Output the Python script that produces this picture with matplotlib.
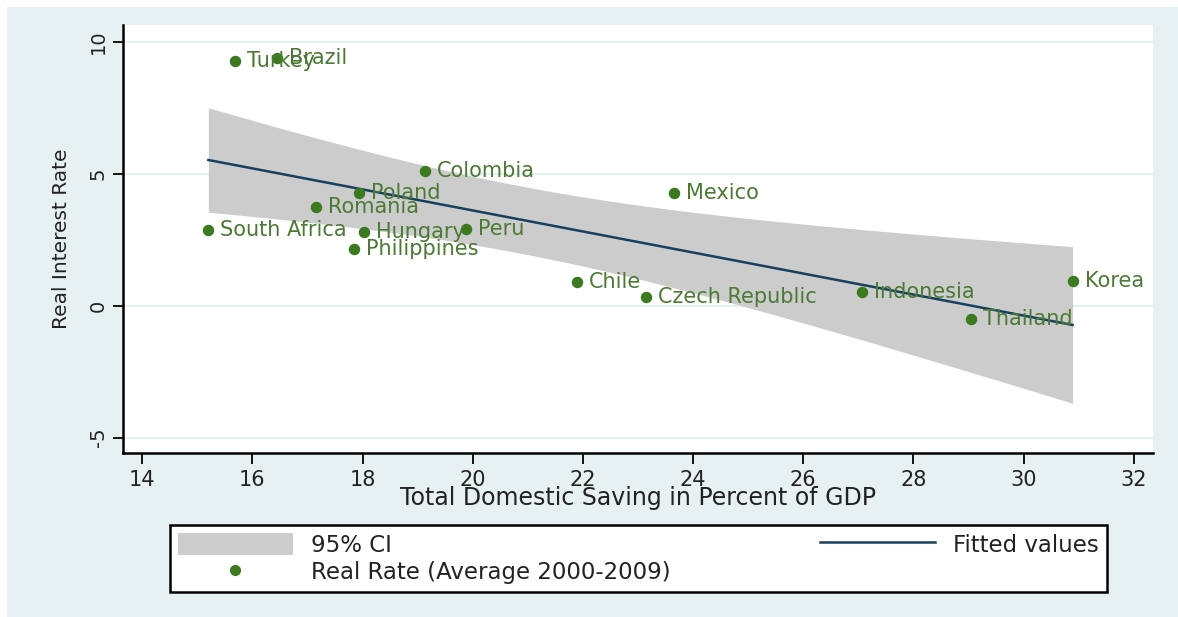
import numpy as np
import matplotlib
matplotlib.use("Agg")
import matplotlib.pyplot as plt
from matplotlib.patches import Rectangle, Patch
from matplotlib.lines import Line2D

# ---- data ----
countries = ["Turkey", "Brazil", "Colombia", "Poland", "Romania", "South Africa",
             "Hungary", "Peru", "Philippines", "Mexico", "Chile", "Czech Republic",
             "Indonesia", "Thailand", "Korea"]
saving = [15.69, 16.44, 19.13, 17.93, 17.15, 15.20, 18.02, 19.87, 17.84, 23.65,
          21.89, 23.14, 27.06, 29.04, 30.89]
real_rate = [9.27, 9.38, 5.10, 4.27, 3.74, 2.87, 2.79, 2.91, 2.15, 4.27,
             0.90, 0.33, 0.52, -0.50, 0.94]
x_ticks = [14, 16, 18, 20, 22, 24, 26, 28, 30, 32]
y_ticks = [-5, 0, 5, 10]
T_CRIT = 2.160  # t(0.975, df=13)

plt.rcParams['font.family'] = ['DejaVu Sans']

BG = "#e8f1f2"
GREEN = "#3b7a1f"
LABEL_GREEN = "#4a7a33"
NAVY = "#17405f"
GRAY = "#cccccc"
TXT = "#222222"

fig = plt.figure(figsize=(11.78, 6.17), dpi=100, facecolor="white")
W, H = 1178, 617
fig.patches.append(Rectangle((7 / W, 0), 1 - 7 / W, 1 - 7 / H,
                             transform=fig.transFigure, facecolor=BG,
                             edgecolor="none", zorder=-10))

ax = fig.add_axes([123 / W, 1 - 453 / H, (1153 - 123) / W, (453 - 25) / H])
ax.set_facecolor("white")

x = np.array(saving)
y = np.array(real_rate)
n = len(x)
b, a = np.polyfit(x, y, 1)
resid = y - (a + b * x)
s = np.sqrt(np.sum(resid ** 2) / (n - 2))
xbar = x.mean()
sxx = np.sum((x - xbar) ** 2)
xs = np.linspace(x.min(), x.max(), 200)
fit = a + b * xs
se = s * np.sqrt(1 / n + (xs - xbar) ** 2 / sxx)

for yt in y_ticks:
    ax.axhline(yt, color=BG, lw=1.6, zorder=0)

ax.fill_between(xs, fit - T_CRIT * se, fit + T_CRIT * se, color=GRAY,
                lw=0, zorder=1)
ax.plot(xs, fit, color=NAVY, lw=1.8, zorder=3)
ax.scatter(x, y, s=68, color=GREEN, zorder=4, linewidths=0)
for c, xi, yi in zip(countries, x, y):
    ax.annotate(c, (xi, yi), xytext=(12, 0), textcoords="offset pixels",
                ha="left", va="center", fontsize=15, color=LABEL_GREEN,
                zorder=5)

ax.set_xlim(13.65, 32.35)
ax.set_ylim(-5.58, 10.63)
ax.set_xticks(x_ticks)
ax.set_yticks(y_ticks)
ax.set_yticklabels([str(v) for v in y_ticks], rotation=90, va="center")
ax.tick_params(axis="x", labelsize=15, length=8, width=1.3, pad=4, labelcolor=TXT)
ax.tick_params(axis="y", labelsize=14, length=7, width=1.3, pad=4, labelcolor=TXT)
for sp in ["top", "right"]:
    ax.spines[sp].set_visible(False)
for sp in ["left", "bottom"]:
    ax.spines[sp].set_linewidth(1.8)

ax.set_xlabel("Total Domestic Saving in Percent of GDP", fontsize=17,
              labelpad=-3, color=TXT)
ax.set_ylabel("Real Interest Rate", fontsize=14.5, labelpad=13, color=TXT)

handles = [Patch(facecolor=GRAY, edgecolor="none"),
           Line2D([], [], marker="o", ls="none", color=GREEN, markersize=7),
           Line2D([], [], color=NAVY, lw=1.8)]
labels = ["95% CI", "Real Rate (Average 2000-2009)", "Fitted values"]
leg = fig.legend(handles, labels, ncol=2, mode="expand",
                 bbox_to_anchor=(170 / W, 1 - 592 / H, (1107 - 170) / W, (592 - 522) / H),
                 loc="lower left", fontsize=16.5, frameon=True, fancybox=False,
                 edgecolor="black", facecolor="white", framealpha=1,
                 handlelength=5.0, handleheight=1.1, handletextpad=0.8,
                 labelspacing=0.15, borderpad=0.35, borderaxespad=0,
                 labelcolor=TXT)
leg.get_frame().set_linewidth(1.8)

fig.savefig("out.png", dpi=100, facecolor=fig.get_facecolor())
